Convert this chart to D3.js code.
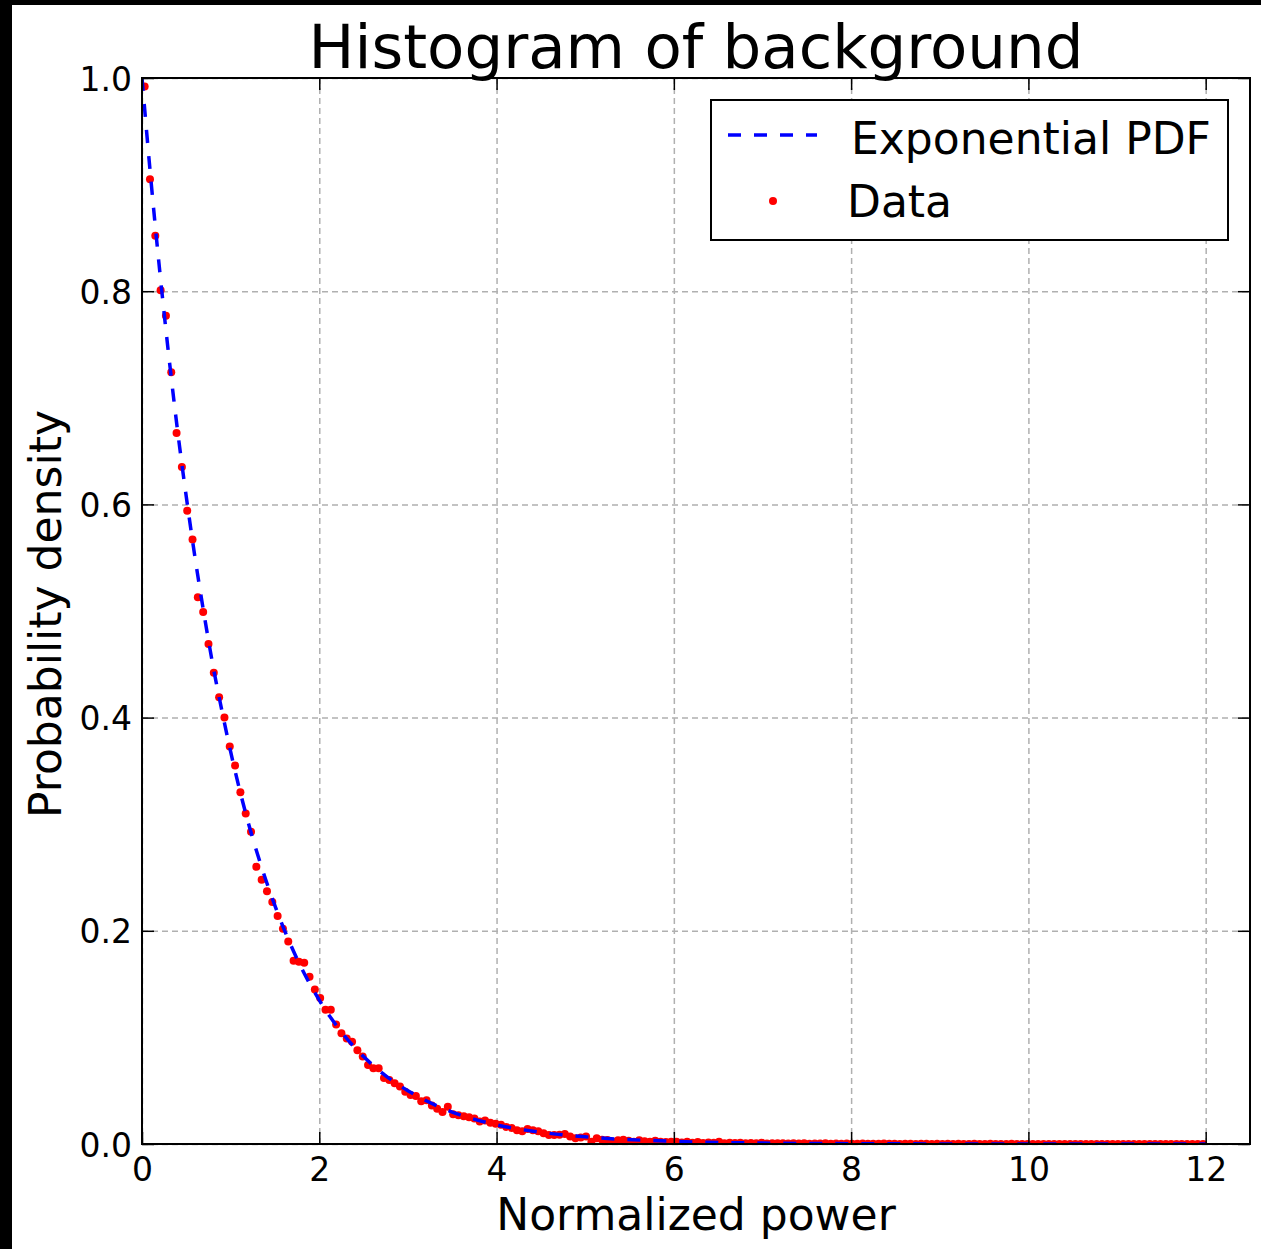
<!DOCTYPE html>
<html>
<head>
<meta charset="utf-8">
<script src="https://d3js.org/d3.v7.min.js"></script>
<style>
  body { margin: 0; background: #000; }
  svg { display: block; }
</style>
</head>
<body>
<div id="chart"></div>
<script>
// Histogram bin centres (normalized power)
var dataX = [
  0.03, 0.09, 0.15, 0.21, 0.27, 0.33, 0.39, 0.45, 0.51, 0.57,
  0.63, 0.69, 0.75, 0.81, 0.87, 0.93, 0.99, 1.05, 1.11, 1.17,
  1.23, 1.29, 1.35, 1.41, 1.47, 1.53, 1.59, 1.65, 1.71, 1.77,
  1.83, 1.89, 1.95, 2.01, 2.07, 2.13, 2.19, 2.25, 2.31, 2.37,
  2.43, 2.49, 2.55, 2.61, 2.67, 2.73, 2.79, 2.85, 2.91, 2.97,
  3.03, 3.09, 3.15, 3.21, 3.27, 3.33, 3.39, 3.45, 3.51, 3.57,
  3.63, 3.69, 3.75, 3.81, 3.87, 3.93, 3.99, 4.05, 4.11, 4.17,
  4.23, 4.29, 4.35, 4.41, 4.47, 4.53, 4.59, 4.65, 4.71, 4.77,
  4.83, 4.89, 4.95, 5.01, 5.07, 5.13, 5.19, 5.25, 5.31, 5.37,
  5.43, 5.49, 5.55, 5.61, 5.67, 5.73, 5.79, 5.85, 5.91, 5.97,
  6.03, 6.09, 6.15, 6.21, 6.27, 6.33, 6.39, 6.45, 6.51, 6.57,
  6.63, 6.69, 6.75, 6.81, 6.87, 6.93, 6.99, 7.05, 7.11, 7.17,
  7.23, 7.29, 7.35, 7.41, 7.47, 7.53, 7.59, 7.65, 7.71, 7.77,
  7.83, 7.89, 7.95, 8.01, 8.07, 8.13, 8.19, 8.25, 8.31, 8.37,
  8.43, 8.49, 8.55, 8.61, 8.67, 8.73, 8.79, 8.85, 8.91, 8.97,
  9.03, 9.09, 9.15, 9.21, 9.27, 9.33, 9.39, 9.45, 9.51, 9.57,
  9.63, 9.69, 9.75, 9.81, 9.87, 9.93, 9.99, 10.05, 10.11, 10.17,
  10.23, 10.29, 10.35, 10.41, 10.47, 10.53, 10.59, 10.65, 10.71, 10.77,
  10.83, 10.89, 10.95, 11.01, 11.07, 11.13, 11.19, 11.25, 11.31, 11.37,
  11.43, 11.49, 11.55, 11.61, 11.67, 11.73, 11.79, 11.85, 11.91, 11.97
];

// Histogram density values
var dataY = [
  0.992, 0.905, 0.852, 0.801, 0.777, 0.724, 0.667, 0.635, 0.594, 0.567,
  0.513, 0.499, 0.469, 0.442, 0.419, 0.400, 0.373, 0.355, 0.330, 0.310,
  0.293, 0.260, 0.248, 0.237, 0.227, 0.214, 0.202, 0.190, 0.172, 0.171,
  0.170, 0.157, 0.145, 0.137, 0.126, 0.126, 0.112, 0.104, 0.099, 0.096,
  0.088, 0.082, 0.074, 0.071, 0.071, 0.062, 0.060, 0.057, 0.054, 0.049,
  0.046, 0.045, 0.040, 0.041, 0.036, 0.033, 0.030, 0.035, 0.028, 0.027,
  0.026, 0.025, 0.024, 0.021, 0.022, 0.020, 0.019, 0.018, 0.016, 0.015,
  0.013, 0.012, 0.014, 0.013, 0.012, 0.010, 0.0085, 0.0084, 0.0086, 0.0094,
  0.0070, 0.0053, 0.0060, 0.0070, 0.0022, 0.0053, 0.0040, 0.0038, 0.0022, 0.0035,
  0.0040, 0.0030, 0.0020, 0.0035, 0.0025, 0.0020, 0.0030, 0.0022, 0.0018, 0.0020,
  0.0020, 0.0015, 0.0022, 0.0012, 0.0018, 0.0010, 0.0015, 0.0012, 0.0020, 0.0008,
  0.0012, 0.0010, 0.0012, 0.0006, 0.0010, 0.0008, 0.0012, 0.0005, 0.0008, 0.0006,
  0.0008, 0.0005, 0.0006, 0.0004, 0.0008, 0.0003, 0.0005, 0.0004, 0.0006, 0.0003,
  0.0004, 0.0003, 0.0005, 0.0002, 0.0003, 0.0004, 0.0002, 0.0003, 0.0002, 0.0004,
  0.0002, 0.0003, 0.0001, 0.0002, 0.0003, 0.0001, 0.0002, 0.0002, 0.0001, 0.0003,
  0.0001, 0.0002, 0.0001, 0.0002, 0.0001, 0.0001, 0.0002, 0.0001, 0.0000, 0.0002,
  0.0001, 0.0000, 0.0001, 0.0002, 0.0000, 0.0001, 0.0000, 0.0001, 0.0001, 0.0000,
  0.0001, 0.0000, 0.0000, 0.0001, 0.0000, 0.0001, 0.0000, 0.0000, 0.0001, 0.0000,
  0.0000, 0.0001, 0.0000, 0.0000, 0.0000, 0.0001, 0.0000, 0.0000, 0.0000, 0.0001,
  0.0000, 0.0000, 0.0001, 0.0000, 0.0000, 0.0000, 0.0000, 0.0001, 0.0000, 0.0000
];

// Exponential PDF, sampled along the dashed curve
var pdfX = [0, 0.1, 0.2, 0.3, 0.4, 0.5, 0.6, 0.7, 0.8, 0.9, 1.0, 1.2, 1.4, 1.6, 1.8, 2.0,
            2.25, 2.5, 2.75, 3.0, 3.5, 4.0, 4.5, 5.0, 6.0, 7.0, 8.0, 9.0, 10.0, 11.0, 12.0];
var pdfY = [1.000, 0.905, 0.819, 0.741, 0.670, 0.607, 0.549, 0.497, 0.449, 0.407, 0.368,
            0.301, 0.247, 0.202, 0.165, 0.135, 0.105, 0.082, 0.064, 0.050, 0.030, 0.018,
            0.011, 0.0067, 0.0025, 0.0009, 0.0003, 0.0001, 0.00005, 0.00002, 0.000006];

// Ticks
var xTicks = [0, 2, 4, 6, 8, 10, 12];
var xTickLabels = ["0", "2", "4", "6", "8", "10", "12"];
var yTicks = [0, 0.2, 0.4, 0.6, 0.8, 1.0];
var yTickLabels = ["0.0", "0.2", "0.4", "0.6", "0.8", "1.0"];

var seriesNames = ["Exponential PDF", "Data"];

// Set up dimensions
var fullW = 1261, fullH = 1249;
var margin = {top: 78, left: 142},
    width = 1108,
    height = 1066;
var font = "DejaVu Sans";

var svgRoot = d3.select("#chart")
    .append("svg")
    .attr("width", fullW)
    .attr("height", fullH);

// black edge at top/left, white figure
svgRoot.append("rect").attr("width", fullW).attr("height", fullH).attr("fill", "#000");
svgRoot.append("rect").attr("x", 12).attr("y", 5)
    .attr("width", fullW - 12).attr("height", fullH - 5).attr("fill", "#fff");

var svg = svgRoot.append("g")
    .attr("transform", "translate(" + margin.left + "," + margin.top + ")");

svg.append("clipPath").attr("id", "plot-clip")
    .append("rect").attr("width", width).attr("height", height);

// Scales
var x = d3.scaleLinear().domain([0, 12.5]).range([0, width]);
var y = d3.scaleLinear().domain([0, 1]).range([height, 0]);

// Grid
svg.append("g")
    .attr("class", "grid")
    .attr("transform", "translate(0," + height + ")")
    .call(d3.axisBottom(x).tickValues(xTicks).tickSize(-height).tickFormat(""));
svg.append("g")
    .attr("class", "grid")
    .call(d3.axisLeft(y).tickValues(yTicks).tickSize(-width).tickFormat(""));
svg.selectAll(".grid .domain").remove();
svg.selectAll(".grid line")
    .attr("stroke", "#b0b0b0")
    .attr("stroke-width", 1.5)
    .attr("stroke-dasharray", "6,4");

var plot = svg.append("g").attr("clip-path", "url(#plot-clip)");

// Data points
plot.append("g")
    .selectAll("circle")
    .data(dataX.map((d, i) => ({x: d, y: dataY[i]})))
    .enter()
    .append("circle")
    .attr("cx", d => x(d.x))
    .attr("cy", d => y(d.y))
    .attr("r", 4)
    .attr("fill", "#ff0000");

// Exponential PDF
var line = d3.line()
    .x(d => x(d.x))
    .y(d => y(d.y))
    .curve(d3.curveMonotoneX);

plot.append("path")
    .datum(pdfX.map((d, i) => ({x: d, y: pdfY[i]})))
    .attr("d", line)
    .attr("fill", "none")
    .attr("stroke", "#0000ff")
    .attr("stroke-width", 3.5)
    .attr("stroke-dasharray", "13,13");

// Axes (ticks point inwards)
var xAxis = svg.append("g")
    .attr("transform", "translate(0," + height + ")")
    .call(d3.axisBottom(x).tickValues(xTicks).tickSize(-12)
        .tickFormat((d, i) => xTickLabels[i]));
xAxis.selectAll("text")
    .attr("y", 37).attr("dy", null);

var yAxis = svg.append("g")
    .call(d3.axisLeft(y).tickValues(yTicks).tickSize(-12)
        .tickFormat((d, i) => yTickLabels[i]));
yAxis.selectAll("text")
    .attr("x", -10).attr("dy", 12);

svg.append("g")
    .call(d3.axisTop(x).tickValues(xTicks).tickSize(-12).tickFormat(""));
svg.append("g")
    .attr("transform", "translate(" + width + ",0)")
    .call(d3.axisRight(y).tickValues(yTicks).tickSize(-12).tickFormat(""));

svg.selectAll(".domain").remove();
svg.selectAll("g:not(.grid) > .tick line")
    .attr("stroke", "#000")
    .attr("stroke-width", 1.5);
svg.selectAll(".tick text")
    .attr("font-family", font)
    .attr("font-size", 33)
    .attr("fill", "#000");

// Frame
svg.append("rect")
    .attr("width", width)
    .attr("height", height)
    .attr("fill", "none")
    .attr("stroke", "#000")
    .attr("stroke-width", 2);

// Title
svg.append("text")
    .attr("x", width / 2)
    .attr("y", 68 - margin.top)
    .attr("text-anchor", "middle")
    .attr("font-family", font)
    .attr("font-size", 61)
    .text("Histogram of background");

// X label
svg.append("text")
    .attr("x", width / 2)
    .attr("y", 1230 - margin.top)
    .attr("text-anchor", "middle")
    .attr("font-family", font)
    .attr("font-size", 44)
    .text("Normalized power");

// Y label
svg.append("text")
    .attr("transform", "rotate(-90)")
    .attr("x", -(614 - margin.top))
    .attr("y", 61 - margin.left)
    .attr("text-anchor", "middle")
    .attr("font-family", font)
    .attr("font-size", 44)
    .text("Probability density");

// Legend
var legend = svgRoot.append("g");
legend.append("rect")
    .attr("x", 711).attr("y", 100)
    .attr("width", 517).attr("height", 140)
    .attr("fill", "#fff")
    .attr("stroke", "#000")
    .attr("stroke-width", 2);
legend.append("line")
    .attr("x1", 728).attr("x2", 817)
    .attr("y1", 135).attr("y2", 135)
    .attr("stroke", "#0000ff")
    .attr("stroke-width", 3.5)
    .attr("stroke-dasharray", "13,13");
legend.append("circle")
    .attr("cx", 773).attr("cy", 201)
    .attr("r", 4)
    .attr("fill", "#ff0000");
legend.append("text")
    .attr("x", 851).attr("y", 154)
    .attr("font-family", font)
    .attr("font-size", 44)
    .text(seriesNames[0]);
legend.append("text")
    .attr("x", 847).attr("y", 217)
    .attr("font-family", font)
    .attr("font-size", 44)
    .text(seriesNames[1]);
</script>
</body>
</html>
